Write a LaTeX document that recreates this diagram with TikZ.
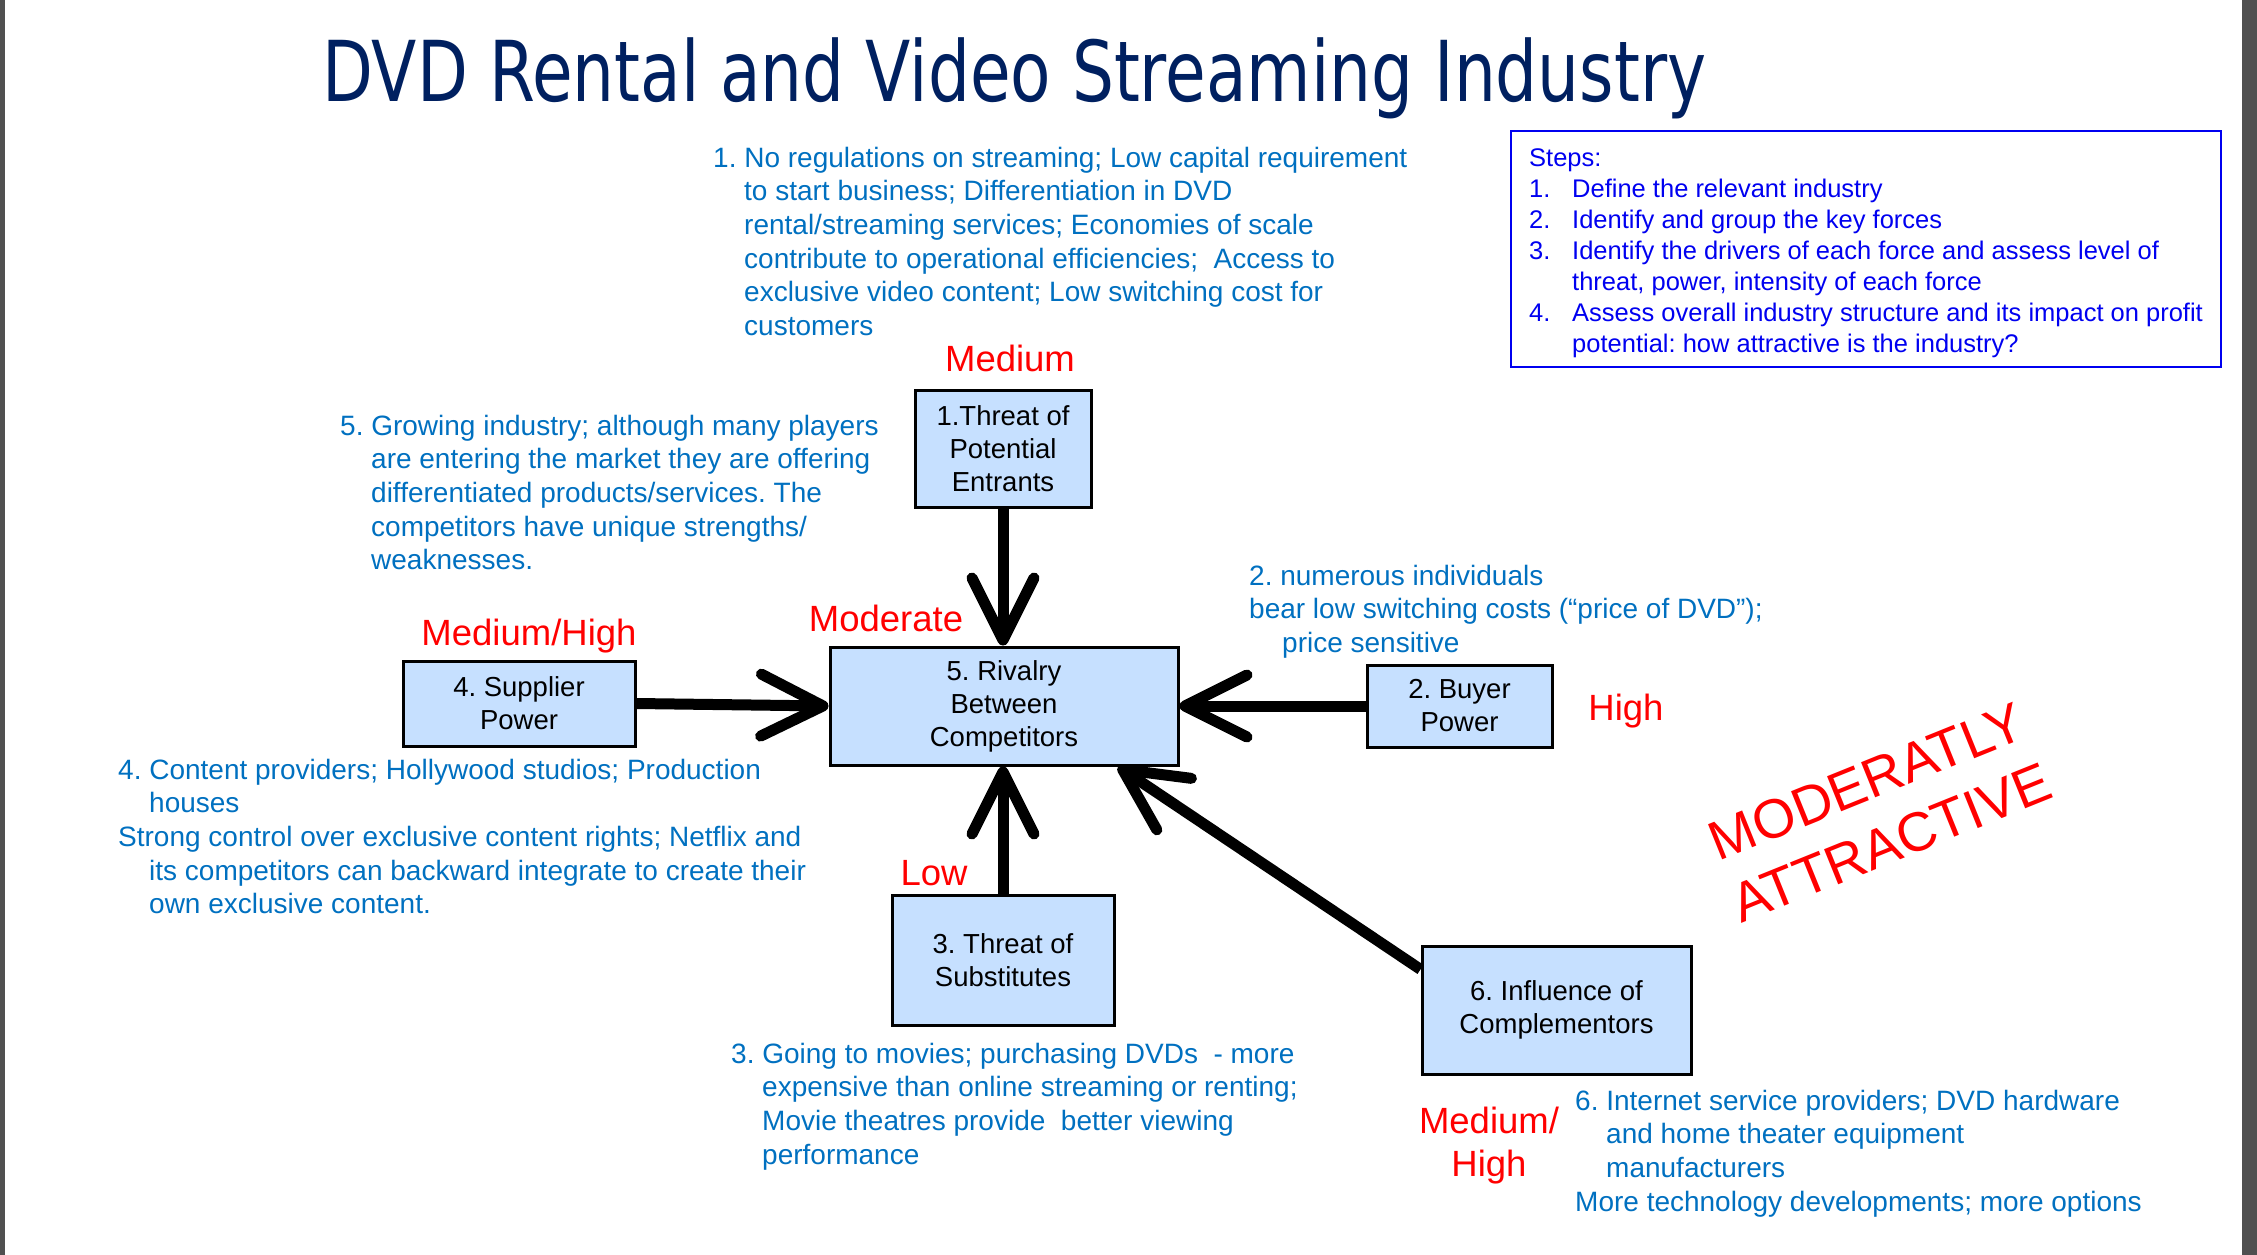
\documentclass[tikz,border=0pt]{standalone}
\usepackage{fontspec}
\setmainfont{Liberation Sans}
\newfontfamily\titlefont[FakeStretch=0.787]{DejaVu Sans}
\usetikzlibrary{arrows.meta,calc}
\definecolor{navy}{RGB}{0,32,96}
\definecolor{txtblue}{RGB}{0,112,192}
\definecolor{stepblue}{RGB}{0,0,240}
\definecolor{boxfill}{RGB}{198,224,255}
\definecolor{edgegray}{RGB}{80,80,80}
\definecolor{lblred}{RGB}{255,0,0}
\newcommand{\ind}{\hspace*{31pt}}
\newcommand{\stepnum}[1]{\makebox[43pt][l]{#1}}
\begin{document}
\frenchspacing
\begin{tikzpicture}[x=1pt,y=-1pt,
  force/.style={draw=black, line width=3pt, fill=boxfill, align=center, inner sep=0pt,
    font=\fontsize{27.5}{33}\selectfont, text=black},
  note/.style={anchor=north west, inner sep=0pt, align=left, text=txtblue,
    font=\fontsize{28}{33.7}\selectfont},
  level/.style={anchor=base, inner sep=0pt, text=lblred, font=\fontsize{36.5}{43}\selectfont},
  push/.style={line width=11pt, -{Straight Barb[length=62pt,width=62pt,round]}},
]
\useasboundingbox (0,0) rectangle (2257,1255);
\fill[edgegray] (0,0) rectangle (5,1255);
\fill[edgegray] (2242,0) rectangle (2257,1255);

% title
\node[anchor=base west, inner sep=0pt, text=navy, font=\titlefont\fontsize{84}{100}\selectfont]
  (title) at (322,101) {DVD Rental and Video Streaming Industry};

% steps box
\node[draw=stepblue, line width=2pt, minimum width=710pt, minimum height=236pt, inner sep=0pt]
  (stepsframe) at (1866,249) {};
\node[anchor=north west, inner sep=0pt, align=left, text=stepblue, font=\fontsize{25.5}{31}\selectfont]
  (steps) at (1529,144.3) {\strut Steps:\\
  \stepnum{1.}Define the relevant industry\\
  \stepnum{2.}Identify and group the key forces\\
  \stepnum{3.}Identify the drivers of each force and assess level of\\
  \hspace*{43pt}threat, power, intensity of each force\\
  \stepnum{4.}Assess overall industry structure and its impact on profit\\
  \hspace*{43pt}potential: how attractive is the industry?};

% force boxes
\node[force, minimum width=176pt, minimum height=117pt] (b1) at (1003,448.5) {1.Threat of\\Potential\\Entrants};
\node[force, minimum width=348pt, minimum height=118pt] (b5) at (1004,706) {5. Rivalry\\Between\\Competitors};
\node[force, minimum width=232pt, minimum height=85pt] (b4) at (519,703.5) {4. Supplier\\Power};
\node[force, minimum width=185pt, minimum height=82pt] (b2) at (1459.5,706) {2. Buyer\\Power};
\node[force, minimum width=222pt, minimum height=130pt] (b3) at (1003,960) {3. Threat of\\Substitutes};
\node[force, minimum width=269pt, minimum height=128pt] (b6) at (1556.5,1010) {6. Influence of\\Complementors};

% arrows
\draw[push] (b1.south) -- (b1.south |- b5.north);
\draw[push] (b3.north) -- (b3.north |- b5.south);
\draw[push] (b4.east) -- (b5.west);
\draw[push] (b2.west) -- (b5.east);
\draw[push] ($(b6.north west)!0.19!(b6.south west)$) -- ($(b5.south)!0.65!(b5.south east)$);

% level labels
\node[level] (l1) at (1010,371) {Medium};
\node[level] (l5) at (886,631) {Moderate};
\node[level] (l4) at (529,645) {Medium/High};
\node[level] (l2) at (1626,720) {High};
\node[level] (l3) at (934,885) {Low};
\node[level] (l6a) at (1489,1133) {Medium/};
\node[level] (l6b) at (1489,1176) {High};

% notes
\node[note] (n1) at (713,143.4) {\strut 1. No regulations on streaming; Low capital requirement\\
  \ind to start business; Differentiation in DVD\\
  \ind rental/streaming services; Economies of scale\\
  \ind contribute to operational efficiencies;\ \ Access to\\
  \ind exclusive video content; Low switching cost for\\
  \ind customers};
\node[note] (n5) at (340,411.4) {\strut 5. Growing industry; although many players\\
  \ind are entering the market they are offering\\
  \ind differentiated products/services. The\\
  \ind competitors have unique strengths/\\
  \ind weaknesses.};
\node[note] (n2) at (1249,561.4) {\strut 2. numerous individuals\\
  bear low switching costs (“price of DVD”);\\
  \hspace*{33pt}price sensitive};
\node[note] (n4) at (118,755.4) {\strut 4. Content providers; Hollywood studios; Production\\
  \ind houses\\
  Strong control over exclusive content rights; Netflix and\\
  \ind its competitors can backward integrate to create their\\
  \ind own exclusive content.};
\node[note] (n3) at (731,1039.4) {\strut 3. Going to movies; purchasing DVDs\ \ - more\\
  \ind expensive than online streaming or renting;\\
  \ind Movie theatres provide\ \ better viewing\\
  \ind performance};
\node[note] (n6) at (1575,1086.4) {\strut 6. Internet service providers; DVD hardware\\
  \ind and home theater equipment\\
  \ind manufacturers\\
  More technology developments; more options};

% verdict
\node[rotate=22, align=center, inner sep=0pt, text=lblred, font=\fontsize{55}{66}\selectfont]
  (verdict) at (1879,812) {MODERATLY\\ATTRACTIVE};
\end{tikzpicture}
\end{document}
